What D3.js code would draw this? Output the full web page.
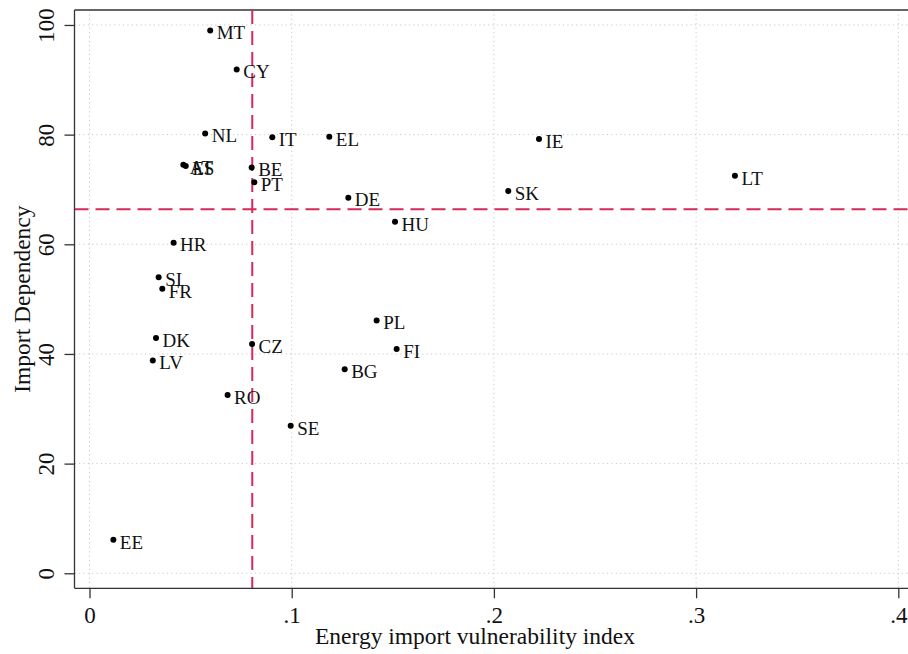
<!DOCTYPE html>
<html>
<head>
<meta charset="utf-8">
<script src="https://cdn.jsdelivr.net/npm/d3@7/dist/d3.min.js"></script>
<style>
  html, body { margin: 0; padding: 0; background: #fff; }
  svg { display: block; font-family: "Liberation Serif", "Times New Roman", serif; }
</style>
</head>
<body>
<svg id="chart" width="908" height="654"></svg>
<script>
const countries = ["MT","CY","NL","IT","EL","IE","AT","ES","BE","PT","LT","SK","DE","HU","HR","SI","FR","PL","DK","CZ","FI","LV","BG","RO","SE","EE"];
const vulnerability = [0.0597,0.0728,0.0572,0.0904,0.1186,0.2223,0.0464,0.0476,0.0802,0.0815,0.3192,0.2071,0.1280,0.1511,0.0416,0.0342,0.0360,0.1420,0.0329,0.0804,0.1519,0.0313,0.1262,0.0683,0.0995,0.0118];
const dependency = [99.0,91.9,80.2,79.5,79.6,79.2,74.5,74.3,74.0,71.3,72.5,69.7,68.5,64.1,60.3,54.0,51.9,46.1,42.9,41.8,40.9,38.8,37.2,32.5,26.9,6.1];
const xTicks = [0, 0.1, 0.2, 0.3, 0.4];
const xTickLabels = ["0", ".1", ".2", ".3", ".4"];
const yTicks = [0, 20, 40, 60, 80, 100];
const refX = [0.0805];
const refY = [66.4];
const xTitle = "Energy import vulnerability index";
const yTitle = "Import Dependency";

(function () {
const svg = d3.select("#chart");
const pLeft = 74.5, pTop = 10, pBottom = 588.3, W = 908;

const x = d3.scaleLinear().domain([-0.00742, 0.41]).range([pLeft, pLeft + (0.41 + 0.00742) * 2022]);
const y = d3.scaleLinear().domain([-2.74, 102.73]).range([pBottom, pTop]);

const red = "#d42a5a";

// gridlines
const grid = svg.append("g");
grid.selectAll("line.gx").data(xTicks).join("line").attr("class", "gx")
  .attr("x1", d => x(d)).attr("x2", d => x(d))
  .attr("y1", pTop).attr("y2", pBottom)
  .attr("stroke", "#c8c8c8").attr("stroke-width", 1).attr("stroke-dasharray", "1.2,3.2");
grid.selectAll("line.gy").data(yTicks).join("line").attr("class", "gy")
  .attr("x1", pLeft).attr("x2", W)
  .attr("y1", d => y(d)).attr("y2", d => y(d))
  .attr("stroke", "#c8c8c8").attr("stroke-width", 1).attr("stroke-dasharray", "1.2,3.2");

// frame top
svg.append("line").attr("x1", pLeft).attr("x2", W).attr("y1", pTop).attr("y2", pTop)
  .attr("stroke", "#333").attr("stroke-width", 1.3);

// reference lines
svg.selectAll("line.rx").data(refX).join("line").attr("class", "rx")
  .attr("x1", d => x(d)).attr("x2", d => x(d)).attr("y1", pTop).attr("y2", pBottom)
  .attr("stroke", red).attr("stroke-width", 2).attr("stroke-dasharray", "14,7");
svg.selectAll("line.ry").data(refY).join("line").attr("class", "ry")
  .attr("x1", pLeft).attr("x2", W).attr("y1", d => y(d)).attr("y2", d => y(d))
  .attr("stroke", red).attr("stroke-width", 2).attr("stroke-dasharray", "14,7");

// axes
const xAxis = d3.axisBottom(x).tickValues(xTicks).tickFormat((d, i) => xTickLabels[i]).tickSize(10).tickSizeOuter(0).tickPadding(8);
const gx = svg.append("g").attr("transform", `translate(0,${pBottom})`).call(xAxis);
gx.select(".domain").attr("stroke", "#333").attr("stroke-width", 1.3).attr("d", `M${pLeft},0H${W}`);
gx.selectAll(".tick line").attr("stroke", "#333").attr("stroke-width", 1.3);
gx.selectAll(".tick text").attr("font-family", "Liberation Serif").attr("font-size", 23).attr("fill", "#111");

const yAxis = d3.axisLeft(y).tickValues(yTicks).tickSize(10).tickSizeOuter(0).tickPadding(8);
const gy = svg.append("g").attr("transform", `translate(${pLeft},0)`).call(yAxis);
gy.select(".domain").attr("stroke", "#333").attr("stroke-width", 1.3).attr("d", `M0,${pTop}V${pBottom}`);
gy.selectAll(".tick line").attr("stroke", "#333").attr("stroke-width", 1.3);
gy.selectAll(".tick text")
  .attr("font-family", "Liberation Serif").attr("font-size", 23).attr("fill", "#111")
  .attr("text-anchor", "middle")
  .attr("x", 0).attr("y", 0).attr("dy", "0")
  .attr("transform", "translate(-20.5,0) rotate(-90)");

// axis titles
svg.append("text").attr("x", 475).attr("y", 644).attr("text-anchor", "middle")
  .attr("font-size", 23.5).attr("fill", "#111").text(xTitle);
svg.append("text").attr("transform", `translate(30,${(pTop + pBottom) / 2}) rotate(-90)`)
  .attr("text-anchor", "middle").attr("font-size", 23.5).attr("fill", "#111").text(yTitle);

// points
const data = countries.map((c, i) => ({ c, vx: vulnerability[i], vy: dependency[i] }));
const pts = svg.append("g");
pts.selectAll("circle").data(data).join("circle")
  .attr("cx", d => x(d.vx)).attr("cy", d => y(d.vy)).attr("r", 3).attr("fill", "#000");
pts.selectAll("text").data(data).join("text")
  .attr("x", d => x(d.vx) + 6.5).attr("y", d => y(d.vy) + 8.8)
  .attr("font-size", 19).attr("fill", "#111").text(d => d.c);
})();
</script>
</body>
</html>
